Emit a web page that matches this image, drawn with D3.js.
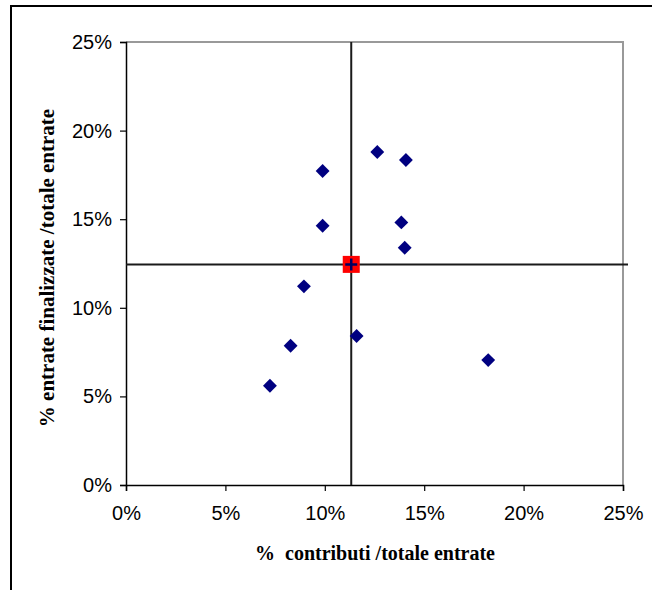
<!DOCTYPE html>
<html>
<head>
<meta charset="utf-8">
<script src="https://cdn.jsdelivr.net/npm/d3@7/dist/d3.min.js"></script>
<style>
  html, body { margin: 0; padding: 0; background: #fff; }
  svg { display: block; }
</style>
</head>
<body>
<svg id="chart" width="652" height="590"></svg>
<script>
// % contributi / totale entrate (x) and % entrate finalizzate / totale entrate (y)
const contributi = [7.24, 8.28, 8.95, 9.89, 9.89, 11.60, 12.64, 14.08, 13.85, 14.02, 18.22];
const finalizzate = [5.60, 7.86, 11.21, 17.72, 14.63, 8.41, 18.79, 18.34, 14.82, 13.39, 7.05];
// reference point (averages) where the quadrant lines cross
const mediaX = [11.33];
const mediaY = [12.45];
const tickValues = [0, 5, 10, 15, 20, 25];
const xTitle = "%  contributi /totale entrate";
const yTitle = "% entrate finalizzate /totale entrate";

const svg = d3.select("#chart");
const plot = { left: 126, right: 623, top: 42, bottom: 485 };

const x = d3.scaleLinear().domain([0, 25]).range([plot.left, plot.right]);
const y = d3.scaleLinear().domain([0, 25]).range([plot.bottom, plot.top]);

// outer frame
svg.append("path")
  .attr("d", "M11,600 L11,6 L660,6")
  .attr("fill", "none").attr("stroke", "#000").attr("stroke-width", 2);

// top and right borders of the plot area
svg.append("path")
  .attr("d", `M${plot.left},${plot.top} L${plot.right},${plot.top} L${plot.right},${plot.bottom}`)
  .attr("fill", "none").attr("stroke", "#999").attr("stroke-width", 2);

const fmt = d => d + "%";

const xAxis = svg.append("g")
  .attr("transform", `translate(0,${plot.bottom})`)
  .call(d3.axisBottom(x).tickValues(tickValues).tickFormat(fmt).tickSize(6).tickPadding(15));
const yAxis = svg.append("g")
  .attr("transform", `translate(${plot.left},0)`)
  .call(d3.axisLeft(y).tickValues(tickValues).tickFormat(fmt).tickSize(6).tickPadding(8));

[xAxis, yAxis].forEach(g => {
  g.select(".domain").attr("stroke", "#000").attr("stroke-width", 1.5);
  g.selectAll(".tick line").attr("stroke", "#000").attr("stroke-width", 1.2);
  g.selectAll(".tick text")
    .attr("fill", "#000")
    .style("font-family", "'Liberation Sans', Arial, sans-serif")
    .style("font-size", "20px");
});

// quadrant lines through the reference point
svg.append("line")
  .attr("x1", x(mediaX[0])).attr("x2", x(mediaX[0]))
  .attr("y1", plot.top).attr("y2", plot.bottom)
  .attr("stroke", "#1a1a1a").attr("stroke-width", 2);
svg.append("line")
  .attr("x1", plot.left).attr("x2", plot.right + 5)
  .attr("y1", y(mediaY[0])).attr("y2", y(mediaY[0]))
  .attr("stroke", "#1a1a1a").attr("stroke-width", 2);

// data points: navy diamonds
const diamond = d3.symbol().type(d3.symbolSquare).size(96);
svg.append("g").selectAll("path")
  .data(contributi.map((v, i) => [v, finalizzate[i]]))
  .join("path")
  .attr("d", diamond)
  .attr("transform", d => `translate(${x(d[0])},${y(d[1])}) rotate(45)`)
  .attr("fill", "#000080");

// reference point: red square with a navy cross
const ref = svg.append("g");
ref.selectAll("rect")
  .data(mediaX.map((v, i) => [v, mediaY[i]]))
  .join("rect")
  .attr("x", d => x(d[0]) - 8.5).attr("y", d => y(d[1]) - 8.5)
  .attr("width", 17).attr("height", 17)
  .attr("fill", "#ff0000");
ref.selectAll("path")
  .data(mediaX.map((v, i) => [v, mediaY[i]]))
  .join("path")
  .attr("d", d => {
    const cx = x(d[0]), cy = y(d[1]);
    return `M${cx - 6},${cy} L${cx + 6},${cy} M${cx},${cy - 6} L${cx},${cy + 6}`;
  })
  .attr("stroke", "#000060").attr("stroke-width", 2.5);

// axis titles
svg.append("text")
  .attr("x", 375).attr("y", 560)
  .attr("text-anchor", "middle")
  .style("font-family", "'Liberation Serif', 'Times New Roman', serif")
  .style("font-weight", "bold").style("font-size", "20px")
  .style("white-space", "pre")
  .text(xTitle);

svg.append("text")
  .attr("transform", `translate(54,268) rotate(-90)`)
  .attr("text-anchor", "middle")
  .style("font-family", "'Liberation Serif', 'Times New Roman', serif")
  .style("font-weight", "bold").style("font-size", "21px")
  .text(yTitle);
</script>
</body>
</html>
